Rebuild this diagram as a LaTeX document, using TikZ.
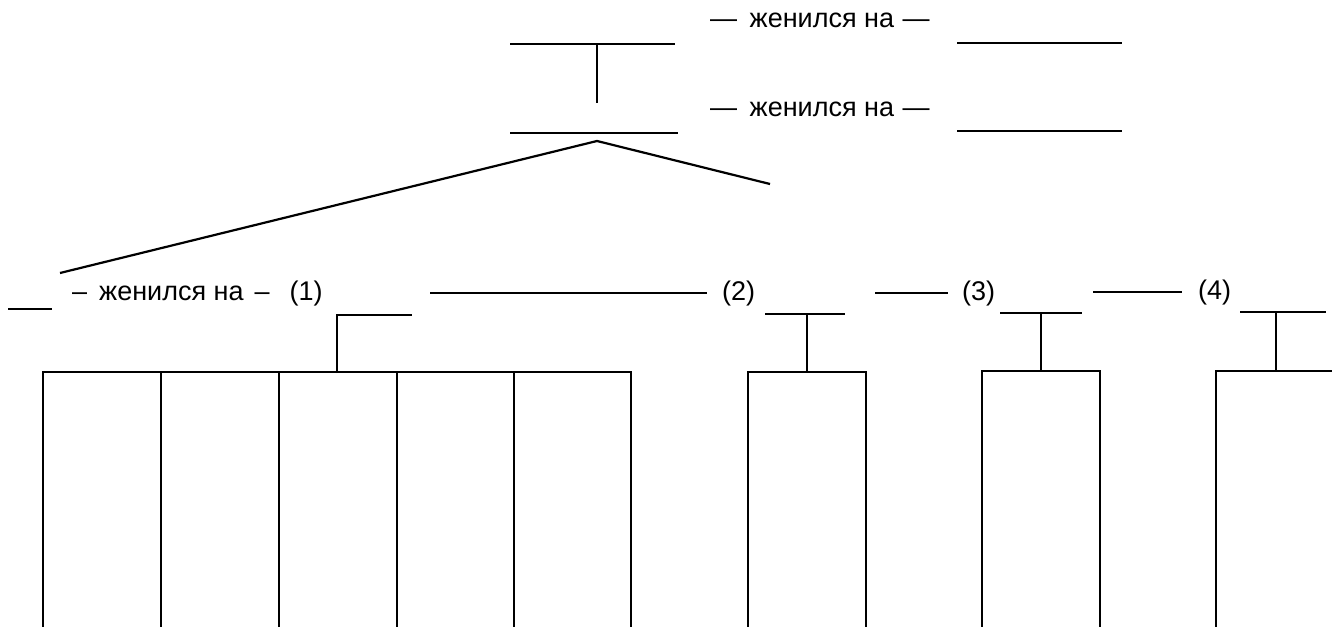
\documentclass[tikz,border=0pt]{standalone}
\usepackage{fontspec}
\setmainfont{Liberation Sans}
\begin{document}
\begin{tikzpicture}[x=1pt,y=-1pt,
  lbl/.style={inner sep=0pt, anchor=base west, font=\fontsize{27}{31}\selectfont},
  ln/.style={line width=2.2pt}]
\useasboundingbox (0,0) rectangle (1332,626);
% ---- top generation
\coordinate (L1a) at (510,44); \coordinate (L1b) at (675,44);
\coordinate (L1m) at (597,44); \coordinate (V1e) at (597,103);
\coordinate (L2a) at (510,133); \coordinate (L2b) at (678,133);
\coordinate (R1a) at (957,43); \coordinate (R1b) at (1122,43);
\coordinate (R2a) at (957,131); \coordinate (R2b) at (1122,131);
\node[lbl] (t1) at (710,28) {—\hspace{5pt} женился на\hspace{1pt} —};
\node[lbl] (t2) at (710,116) {—\hspace{5pt} женился на\hspace{1pt} —};
\draw[ln] (L1a) -- (L1b);
\draw[ln] (L1m) -- (V1e);
\draw[ln] (L2a) -- (L2b);
\draw[ln] (R1a) -- (R1b);
\draw[ln] (R2a) -- (R2b);
% ---- wedge
\coordinate (apex) at (597,141); \coordinate (wl) at (60,273); \coordinate (wr) at (770,184);
\draw[ln] (wl) -- (apex) -- (wr);
% ---- middle row
\coordinate (s1a) at (8,309); \coordinate (s1b) at (52,309);
\draw[ln] (s1a) -- (s1b);
\node[lbl] (m1) at (72,300) {–\hspace{12pt}женился на\hspace{11pt}–\hspace{20pt}(1)};
\coordinate (m2a) at (430,293); \coordinate (m2b) at (707,293);
\draw[ln] (m2a) -- (m2b);
\node[lbl] (n2) at (722,300) {(2)};
\coordinate (m3a) at (875,293); \coordinate (m3b) at (948,293);
\draw[ln] (m3a) -- (m3b);
\node[lbl] (n3) at (962,300) {(3)};
\coordinate (m4a) at (1093,292); \coordinate (m4b) at (1182,292);
\draw[ln] (m4a) -- (m4b);
\node[lbl] (n4) at (1198,299) {(4)};
% ---- family (1)
\coordinate (st1b) at (337,373); \coordinate (st1t) at (337,315); \coordinate (st1r) at (412,315);
\draw[ln] (st1b) -- (st1t) -- (st1r);
\foreach \i/\x in {1/43,2/161,3/279,4/397,5/514,6/631}{
  \coordinate (a\i) at (\x,372); \coordinate (b\i) at (\x,630);
}
\draw[ln] (b1) -- (a1) -- (a6) -- (b6);
\foreach \i in {2,3,4,5}{ \draw[ln] (a\i) -- (b\i); }
% ---- family (2)
\coordinate (T2a) at (765,314); \coordinate (T2b) at (845,314); \coordinate (T2m) at (807,314);
\coordinate (B2l) at (748,372); \coordinate (B2r) at (866,372); \coordinate (B2m) at (807,372);
\coordinate (B2lb) at (748,630); \coordinate (B2rb) at (866,630);
\draw[ln] (T2a) -- (T2b); \draw[ln] (T2m) -- (B2m);
\draw[ln] (B2lb) -- (B2l) -- (B2r) -- (B2rb);
% ---- family (3)
\coordinate (T3a) at (1000,313); \coordinate (T3b) at (1082,313); \coordinate (T3m) at (1041,313);
\coordinate (B3l) at (982,371); \coordinate (B3r) at (1100,371); \coordinate (B3m) at (1041,371);
\coordinate (B3lb) at (982,630); \coordinate (B3rb) at (1100,630);
\draw[ln] (T3a) -- (T3b); \draw[ln] (T3m) -- (B3m);
\draw[ln] (B3lb) -- (B3l) -- (B3r) -- (B3rb);
% ---- family (4)
\coordinate (T4a) at (1240,312); \coordinate (T4b) at (1326,312); \coordinate (T4m) at (1276,312);
\coordinate (B4l) at (1216,371); \coordinate (B4r) at (1335,371); \coordinate (B4m) at (1276,371);
\coordinate (B4lb) at (1216,630); \coordinate (B4rb) at (1335,630);
\draw[ln] (T4a) -- (T4b); \draw[ln] (T4m) -- (B4m);
\draw[ln] (B4lb) -- (B4l) -- (B4r) -- (B4rb);
\end{tikzpicture}
\end{document}
